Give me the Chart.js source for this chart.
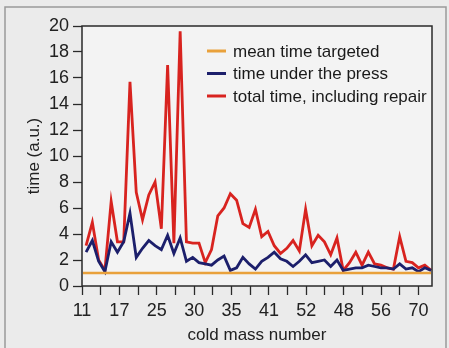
<!DOCTYPE html>
<html>
<head>
<meta charset="utf-8">
<script src="https://cdn.jsdelivr.net/npm/chart.js@4.4.0/dist/chart.umd.min.js"></script>
<style>
html, body { margin: 0; padding: 0; background: #ebebeb; }
canvas { display: block; }
</style>
</head>
<body>
<canvas id="myChart" width="449" height="348"></canvas>
<script>
// cold mass numbers printed under every second tick
const massLabels = ['11', '17', '25', '30', '35', '41', '52', '48', '56', '70'];

// time under the press (a.u.), one value per cold mass in production order
const underPress = [2.6, 3.5, 1.9, 1.1, 3.4, 2.6, 3.4, 5.6, 2.2, 2.9,
    3.5, 3.1, 2.8, 3.9, 2.5, 3.7, 1.9, 2.2, 1.8, 1.7,
    1.6, 2.0, 2.3, 1.2, 1.4, 2.2, 1.7, 1.3, 1.9, 2.2,
    2.6, 2.1, 1.9, 1.5, 1.9, 2.4, 1.8, 1.9, 2.0, 1.5,
    2.0, 1.2, 1.3, 1.4, 1.4, 1.6, 1.5, 1.4, 1.4, 1.3,
    1.7, 1.3, 1.4, 1.1, 1.4, 1.2];

// total time, including repair (a.u.)
const totalTime = [3.1, 4.9, 2.0, 1.2, 6.5, 3.4, 3.4, 15.7, 7.2, 5.1,
    7.0, 8.0, 4.4, 17.0, 3.3, 19.6, 3.4, 3.3, 3.3, 1.8,
    2.8, 5.4, 6.0, 7.1, 6.6, 4.8, 4.5, 5.9, 3.8, 4.2,
    3.1, 2.5, 2.9, 3.5, 2.7, 5.9, 3.1, 3.9, 3.4, 2.4,
    3.7, 1.2, 1.8, 2.6, 1.6, 2.6, 1.7, 1.6, 1.4, 1.3,
    3.8, 1.9, 1.8, 1.4, 1.6, 1.2];

// mean time targeted, flat over the whole run
const meanTarget = [1.0, 1.0];

const pressData = underPress.map(function (v, i) { return {x: i, y: v}; });
const totalData = totalTime.map(function (v, i) { return {x: i, y: v}; });
const targetData = [{x: -0.5, y: meanTarget[0]}, {x: totalTime.length - 1, y: meanTarget[1]}];

const tickStart = -0.65;
const tickStep = 2.98;

Chart.defaults.font.family = "'Liberation Sans', Arial, sans-serif";
Chart.defaults.color = '#222';

// background, plot frame and the legend inside the plot
const framePlugin = {
    id: 'frame',
    beforeDraw: function (chart) {
        const ctx = chart.ctx;
        const a = chart.chartArea;
        ctx.save();
        ctx.fillStyle = '#ebebeb';
        ctx.fillRect(0, 0, chart.width, chart.height);
        ctx.strokeStyle = '#9a9a9a';
        ctx.lineWidth = 1.5;
        ctx.strokeRect(5, 7, 441, 360);
        ctx.fillStyle = '#f3f3f3';
        ctx.fillRect(a.left, a.top, a.right - a.left, a.bottom - a.top);
        ctx.restore();
    },
    afterDraw: function (chart) {
        const ctx = chart.ctx;
        const a = chart.chartArea;
        ctx.save();
        ctx.strokeStyle = '#2a2a2a';
        ctx.lineWidth = 1.5;
        ctx.strokeRect(a.left, a.top, a.right - a.left, a.bottom - a.top);
        ctx.font = "17px 'Liberation Sans', Arial, sans-serif";
        ctx.textBaseline = 'middle';
        var x0 = a.left + 125;
        var y0 = a.top + 25;
        chart.data.datasets.forEach(function (ds, i) {
            var y = y0 + i * 22.5;
            ctx.strokeStyle = ds.borderColor;
            ctx.lineWidth = 3;
            ctx.beginPath();
            ctx.moveTo(x0, y);
            ctx.lineTo(x0 + 19, y);
            ctx.stroke();
            ctx.fillStyle = '#1a1a1a';
            ctx.fillText(ds.label, x0 + 26, y + 1);
        });
        ctx.restore();
    }
};

const ctx = document.getElementById('myChart');
var myChart = new Chart(ctx, {
    type: 'line',
    data: {
        datasets: [{
            label: 'mean time targeted',
            data: targetData,
            borderColor: '#e9a13b',
            borderWidth: 2.5
        }, {
            label: 'time under the press',
            data: pressData,
            borderColor: '#1c1f6b',
            borderWidth: 2.8
        }, {
            label: 'total time, including repair',
            data: totalData,
            borderColor: '#d8231f',
            borderWidth: 2.8
        }]
    },
    options: {
        responsive: false,
        animation: false,
        events: [],
        elements: {
            point: { radius: 0 },
            line: { tension: 0 }
        },
        layout: {
            padding: { top: 26, right: 17, left: 0, bottom: 0 }
        },
        plugins: {
            legend: { display: false },
            tooltip: { enabled: false }
        },
        scales: {
            x: {
                type: 'linear',
                min: tickStart,
                max: 55.15,
                afterBuildTicks: function (scale) {
                    var t = [];
                    for (var k = 0; k < massLabels.length * 2 - 1; k++) {
                        t.push({value: tickStart + k * tickStep});
                    }
                    scale.ticks = t;
                },
                afterFit: function (scale) { scale.height = 62; },
                ticks: {
                    autoSkip: false,
                    maxRotation: 0,
                    padding: 5,
                    font: { size: 18 },
                    callback: function (value, index) {
                        return index % 2 === 0 ? massLabels[index / 2] : '';
                    }
                },
                grid: {
                    drawOnChartArea: false,
                    tickLength: 9,
                    tickColor: '#2a2a2a',
                    tickWidth: 1.3
                },
                border: { display: false },
                title: {
                    display: true,
                    text: 'cold mass number',
                    font: { size: 17 },
                    padding: { top: 0, bottom: 2 }
                }
            },
            y: {
                min: 0,
                max: 20,
                afterFit: function (scale) { scale.width = 82; },
                ticks: {
                    stepSize: 2,
                    padding: 4,
                    font: { size: 18 }
                },
                grid: {
                    drawOnChartArea: false,
                    tickLength: 9,
                    tickColor: '#2a2a2a',
                    tickWidth: 1.3
                },
                border: { display: false },
                title: {
                    display: true,
                    text: 'time (a.u.)',
                    font: { size: 17 },
                    padding: { top: 24, bottom: 0 }
                }
            }
        }
    },
    plugins: [framePlugin]
});
</script>
</body>
</html>
